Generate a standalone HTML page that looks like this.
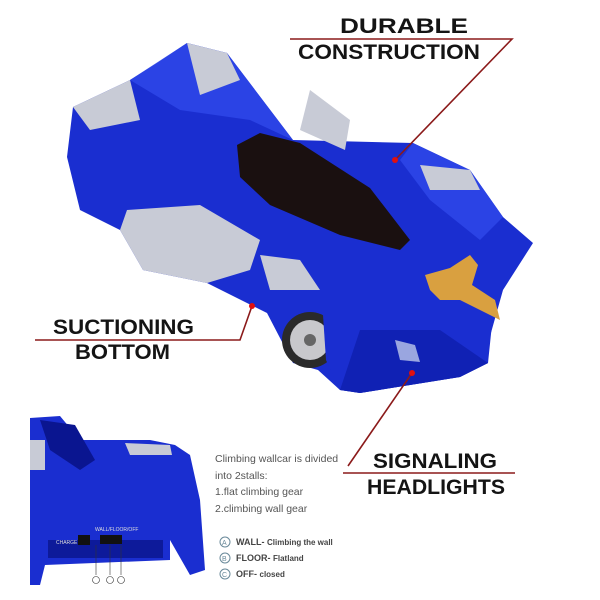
<!DOCTYPE html>
<html><head><style>
html,body{margin:0;padding:0;background:#fff;width:600px;height:600px;overflow:hidden}
svg{display:block}
.h{font-family:"Liberation Sans",sans-serif;font-weight:bold;fill:#141414}
.t{font-family:"Liberation Sans",sans-serif;fill:#555}
</style></head><body>
<svg width="600" height="600" viewBox="0 0 600 600">
<!-- car body -->
<polygon fill="#1a2ed0" points="67,157 73,107 130,80 157,63 187,43 227,53 293,140 413,143 470,170 503,217 533,243 503,290 487,347 488,363 460,377 360,393 340,390 318,370 293,363 267,313 207,283 143,270 120,230 80,210"/>
<polygon fill="#2f49ea" points="130,80 187,43 227,53 293,140 250,120 180,110" opacity=".8"/>
<polygon fill="#2f49ea" points="413,143 470,170 503,217 480,240 430,200 400,160" opacity=".8"/>
<!-- silver parts -->
<polygon fill="#c8cbd6" points="73,107 130,80 140,120 90,130"/>
<polygon fill="#c8cbd6" points="187,43 227,53 240,80 200,95"/>
<polygon fill="#c8cbd6" points="127,210 200,205 260,240 250,270 207,283 143,270 120,230"/>
<polygon fill="#c8cbd6" points="260,255 300,260 320,290 270,290"/>
<polygon fill="#c8cbd6" points="310,90 350,120 345,150 300,130"/>
<polygon fill="#c8cbd6" points="420,165 470,170 480,190 430,190"/>
<!-- wheel -->
<circle cx="310" cy="340" r="28" fill="#2a2a2a"/>
<circle cx="310" cy="340" r="20" fill="#c8c8cc"/>
<circle cx="310" cy="340" r="6" fill="#666"/>
<!-- front part over wheel -->
<polygon fill="#1a2ed0" points="322,300 495,295 488,363 460,377 360,393 340,390 326,360"/>
<polygon fill="#0d1ca8" points="340,390 360,393 460,377 488,363 440,330 360,330" opacity=".7"/>
<!-- windshield -->
<polygon fill="#1a1010" points="237,145 260,133 300,143 370,188 410,240 400,250 340,235 270,205 240,177"/>
<!-- gold emblem -->
<polygon fill="#d9a040" points="425,275 450,268 470,255 478,265 472,285 495,300 500,320 480,310 460,300 440,300 430,290"/>
<!-- headlight -->
<polygon fill="#9aa6e0" points="395,340 415,345 420,362 400,360"/>
<!-- connectors -->
<g stroke="#8b1a1a" stroke-width="1.6" fill="none">
<polyline points="290,39 512,39 395,160"/>
<polyline points="35,340 240,340 252,306"/>
<polyline points="343,473 515,473"/>
<line x1="348" y1="466" x2="412" y2="373"/>
</g>
<circle cx="395" cy="160" r="3" fill="#e01010"/>
<circle cx="252" cy="306" r="3" fill="#e01010"/>
<circle cx="412" cy="373" r="3" fill="#e01010"/>
<!-- headings -->
<text class="h" x="340" y="33" font-size="21" textLength="128" lengthAdjust="spacingAndGlyphs">DURABLE</text>
<text class="h" x="298" y="59" font-size="21" textLength="182" lengthAdjust="spacingAndGlyphs">CONSTRUCTION</text>
<text class="h" x="53" y="334" font-size="21" textLength="141" lengthAdjust="spacingAndGlyphs">SUCTIONING</text>
<text class="h" x="75" y="359" font-size="21" textLength="95" lengthAdjust="spacingAndGlyphs">BOTTOM</text>
<text class="h" x="373" y="468" font-size="21" textLength="124" lengthAdjust="spacingAndGlyphs">SIGNALING</text>
<text class="h" x="367" y="494" font-size="21" textLength="138" lengthAdjust="spacingAndGlyphs">HEADLIGHTS</text>
<!-- inset -->
<polygon fill="#1a2ed0" points="30,418 60,416 80,440 150,440 175,445 190,455 200,500 205,570 190,575 170,540 170,560 45,565 40,585 30,585"/>
<polygon fill="#0a1590" points="40,420 75,425 95,460 80,470 50,450"/>
<rect x="48" y="540" width="115" height="18" fill="#0d1a9a"/>
<polygon fill="#c8cbd6" points="30,440 45,440 45,470 30,470"/>
<polygon fill="#c8cbd6" points="125,443 170,445 172,455 130,455"/>
<rect x="78" y="535" width="12" height="10" fill="#111"/>
<rect x="100" y="535" width="22" height="9" fill="#111"/>
<text x="56" y="544" font-size="5" fill="#ddd" font-family="Liberation Sans,sans-serif">CHARGE</text>
<text x="95" y="531" font-size="5" fill="#ddd" font-family="Liberation Sans,sans-serif">WALL/FLOOR/OFF</text>
<g stroke="#333" stroke-width=".6" fill="none">
<line x1="96" y1="545" x2="96" y2="575"/><line x1="110" y1="545" x2="110" y2="575"/><line x1="121" y1="545" x2="121" y2="575"/>
<circle cx="96" cy="580" r="3.5"/><circle cx="110" cy="580" r="3.5"/><circle cx="121" cy="580" r="3.5"/>
</g>
<text class="t" x="215" y="462" font-size="10.5">Climbing wallcar is divided</text>
<text class="t" x="215" y="479" font-size="10.5">into 2stalls:</text>
<text class="t" x="215" y="495" font-size="10.5">1.flat climbing gear</text>
<text class="t" x="215" y="512" font-size="10.5">2.climbing wall gear</text>
<g font-family="Liberation Sans,sans-serif" font-size="9" fill="#444">
<circle cx="225" cy="542" r="5" fill="none" stroke="#6a8a9a"/><text x="222" y="545" font-size="7" fill="#6a8a9a">A</text>
<text x="236" y="545" font-weight="bold">WALL- <tspan font-size="8">Climbing the wall</tspan></text>
<circle cx="225" cy="558" r="5" fill="none" stroke="#6a8a9a"/><text x="222" y="561" font-size="7" fill="#6a8a9a">B</text>
<text x="236" y="561" font-weight="bold">FLOOR- <tspan font-size="8">Flatland</tspan></text>
<circle cx="225" cy="574" r="5" fill="none" stroke="#6a8a9a"/><text x="222" y="577" font-size="7" fill="#6a8a9a">C</text>
<text x="236" y="577" font-weight="bold">OFF- <tspan font-size="8">closed</tspan></text>
</g>
</svg>
</body></html>
